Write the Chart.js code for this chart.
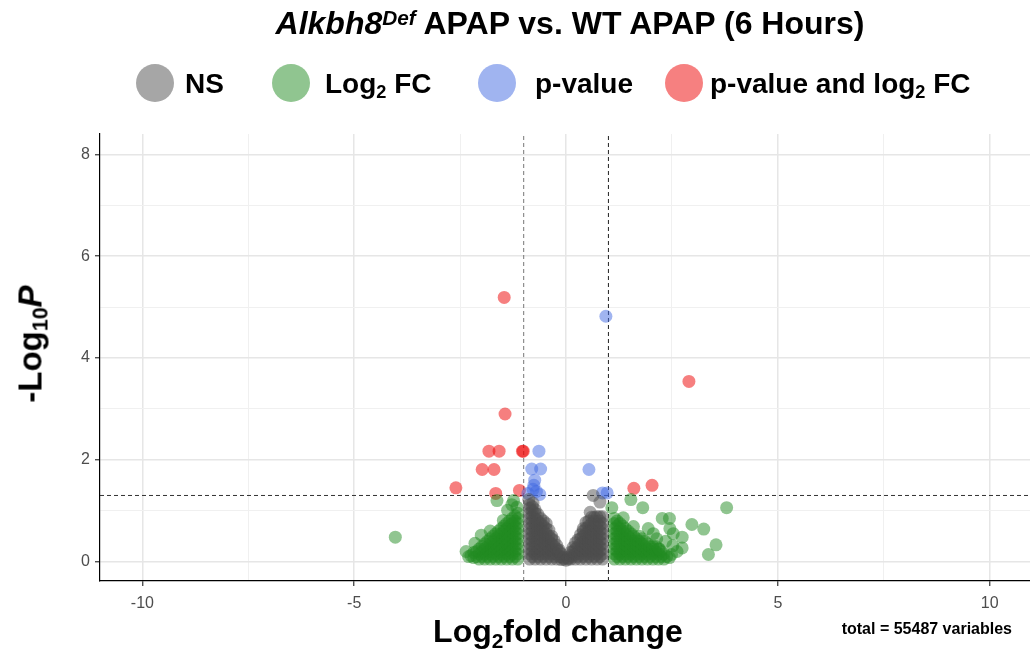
<!DOCTYPE html>
<html>
<head>
<meta charset="utf-8">
<title>Volcano plot</title>
<script src="https://cdn.jsdelivr.net/npm/chart.js@4.4.1/dist/chart.umd.min.js"></script>
<style>
    body { margin: 0; background: #fff; font-family: "Liberation Sans", Arial, sans-serif; }
    #wrap { position: relative; width: 1030px; height: 655px; overflow: hidden; }
    #myChart { position: absolute; left: 0; top: 0; }
    .txt { position: absolute; white-space: nowrap; font-weight: bold; color: #000; line-height: 1; }
    .dot { position: absolute; width: 38px; height: 38px; border-radius: 50%; }
    .sub { font-size: 0.65em; position: relative; top: 0.3em; }
    .sup { font-size: 0.65em; position: relative; top: -0.45em; }
    #title { left: 570px; top: 7px; font-size: 32px; transform: translateX(-50%); }
    .leg { top: 70px; font-size: 28px; }
    #xTitle { left: 558px; top: 615px; font-size: 32px; transform: translateX(-50%); }
    #yTitle { left: 30px; top: 344px; font-size: 33px; transform: translate(-50%, -50%) rotate(-90deg); }
    #caption { right: 18px; top: 621px; font-size: 16px; }
</style>
</head>
<body>
<div id="wrap">
    <canvas id="myChart" width="1030" height="655"></canvas>
    <div class="txt" id="title"><i>Alkbh8<span class="sup">Def</span></i> APAP vs. WT APAP (6 Hours)</div>

    <div class="dot" style="left:136px; top:64px; background:#a6a6a6;"></div>
    <div class="txt leg" style="left:185px;">NS</div>
    <div class="dot" style="left:272px; top:64px; background:#90c590;"></div>
    <div class="txt leg" style="left:325px;">Log<span class="sub">2</span> FC</div>
    <div class="dot" style="left:478px; top:64px; background:#a0b4f0;"></div>
    <div class="txt leg" style="left:535px;">p-value</div>
    <div class="dot" style="left:665px; top:64px; background:#f68080;"></div>
    <div class="txt leg" style="left:710px;">p-value and log<span class="sub">2</span> FC</div>

    <div class="txt" id="xTitle">Log<span class="sub">2</span>fold change</div>
    <div class="txt" id="yTitle">-Log<span class="sub">10</span><i>P</i></div>
    <div class="txt" id="caption">total = 55487 variables</div>
</div>
<script>
const xTicks = [-10, -7.5, -5, -2.5, 0, 2.5, 5, 7.5, 10];
const xLabels = [-10, -5, 0, 5, 10];
const yTicks = [0, 1, 2, 3, 4, 5, 6, 7, 8];
const yLabels = [0, 2, 4, 6, 8];
const xRange = [-11, 10.95];
const yRange = [-0.38, 8.4];
const fcCutoffs = [-1, 1];
const pCutoff = 1.3;

// dense grey cluster, read as columns: [log2FC, [-log10P ...]]
const nsColumns = [
    [-0.86, [0.05, 0.15, 0.25, 0.35, 0.45, 0.55, 0.65, 0.75, 0.85, 0.95, 1.05, 1.12]],
    [-0.795, [0.1, 0.2, 0.3, 0.4, 0.5, 0.6, 0.7, 0.8, 0.9, 1.0, 1.08]],
    [-0.73, [0.05, 0.15, 0.25, 0.35, 0.45, 0.55, 0.65, 0.75, 0.85, 0.95, 1.02]],
    [-0.665, [0.1, 0.2, 0.3, 0.4, 0.5, 0.6, 0.7, 0.8, 0.93]],
    [-0.6, [0.05, 0.15, 0.25, 0.35, 0.45, 0.55, 0.65, 0.75, 0.85]],
    [-0.535, [0.1, 0.2, 0.3, 0.4, 0.5, 0.6, 0.7, 0.8]],
    [-0.47, [0.05, 0.15, 0.25, 0.35, 0.45, 0.55, 0.65, 0.75]],
    [-0.405, [0.1, 0.2, 0.3, 0.4, 0.5, 0.62]],
    [-0.34, [0.05, 0.15, 0.25, 0.35, 0.45, 0.5]],
    [-0.28, [0.1, 0.2, 0.3, 0.41]],
    [-0.22, [0.05, 0.15, 0.25, 0.32]],
    [-0.165, [0.1, 0.2, 0.23]],
    [-0.11, [0.04, 0.1, 0.15]],
    [-0.055, [0.05, 0.08]],
    [0, [0.03]],
    [0.055, [0.05, 0.08]],
    [0.11, [0.05, 0.12, 0.19]],
    [0.165, [0.1, 0.2, 0.28]],
    [0.22, [0.05, 0.15, 0.25, 0.37]],
    [0.28, [0.1, 0.2, 0.3, 0.43]],
    [0.34, [0.05, 0.15, 0.25, 0.35, 0.45, 0.53]],
    [0.405, [0.1, 0.2, 0.3, 0.4, 0.5, 0.6, 0.65]],
    [0.47, [0.05, 0.15, 0.25, 0.35, 0.45, 0.55, 0.65, 0.77]],
    [0.535, [0.1, 0.2, 0.3, 0.4, 0.5, 0.6, 0.7, 0.8]],
    [0.6, [0.05, 0.15, 0.25, 0.35, 0.45, 0.55, 0.65, 0.75, 0.87]],
    [0.665, [0.1, 0.2, 0.3, 0.4, 0.5, 0.6, 0.7, 0.8, 0.87]],
    [0.73, [0.05, 0.15, 0.25, 0.35, 0.45, 0.55, 0.65, 0.75, 0.88]],
    [0.795, [0.1, 0.2, 0.3, 0.4, 0.5, 0.6, 0.7, 0.8, 0.88]],
    [0.86, [0.05, 0.15, 0.25, 0.35, 0.45, 0.55, 0.65, 0.75, 0.88]]
];
const nsPoints = [[-0.88, 1.22], [-0.78, 1.15], [0.64, 1.3], [0.8, 1.17], [0.57, 0.97]];

// dense green clusters either side of the fold-change cutoffs
const fcColumns = [
    [-1.14, [0.05, 0.15, 0.25, 0.35, 0.45, 0.55, 0.65, 0.75, 0.85, 0.95]],
    [-1.205, [0.1, 0.2, 0.3, 0.4, 0.5, 0.6, 0.7, 0.8, 0.9]],
    [-1.27, [0.05, 0.15, 0.25, 0.35, 0.45, 0.55, 0.65, 0.75, 0.85]],
    [-1.335, [0.1, 0.2, 0.3, 0.4, 0.5, 0.6, 0.7, 0.8]],
    [-1.4, [0.05, 0.15, 0.25, 0.35, 0.45, 0.55, 0.65, 0.75]],
    [-1.465, [0.1, 0.2, 0.3, 0.4, 0.5, 0.6, 0.7]],
    [-1.53, [0.05, 0.15, 0.25, 0.35, 0.45, 0.55, 0.65]],
    [-1.595, [0.1, 0.2, 0.3, 0.4, 0.5, 0.6]],
    [-1.66, [0.05, 0.15, 0.25, 0.35, 0.45, 0.55]],
    [-1.725, [0.1, 0.2, 0.3, 0.4, 0.5]],
    [-1.79, [0.05, 0.15, 0.25, 0.35, 0.45]],
    [-1.855, [0.1, 0.2, 0.3, 0.4]],
    [-1.92, [0.05, 0.15, 0.25, 0.35]],
    [-1.985, [0.1, 0.2, 0.3]],
    [-2.05, [0.05, 0.15, 0.25]],
    [-2.115, [0.1, 0.2]],
    [-2.18, [0.08, 0.18]],
    [-2.245, [0.12]],
    [-2.3, [0.1]],
    [1.14, [0.05, 0.15, 0.25, 0.35, 0.45, 0.55, 0.65, 0.75, 0.85]],
    [1.205, [0.1, 0.2, 0.3, 0.4, 0.5, 0.6, 0.7, 0.8]],
    [1.27, [0.05, 0.15, 0.25, 0.35, 0.45, 0.55, 0.65, 0.75]],
    [1.335, [0.1, 0.2, 0.3, 0.4, 0.5, 0.6, 0.7]],
    [1.4, [0.05, 0.15, 0.25, 0.35, 0.45, 0.55, 0.65]],
    [1.465, [0.1, 0.2, 0.3, 0.4, 0.5, 0.6]],
    [1.53, [0.05, 0.15, 0.25, 0.35, 0.45, 0.55]],
    [1.595, [0.1, 0.2, 0.3, 0.4, 0.5]],
    [1.66, [0.05, 0.15, 0.25, 0.35, 0.45]],
    [1.725, [0.1, 0.2, 0.3, 0.4, 0.5]],
    [1.79, [0.05, 0.15, 0.25, 0.35, 0.45]],
    [1.855, [0.1, 0.2, 0.3, 0.4]],
    [1.92, [0.05, 0.15, 0.25, 0.35]],
    [1.985, [0.1, 0.2, 0.3]],
    [2.05, [0.05, 0.15, 0.25, 0.3]],
    [2.115, [0.1, 0.2, 0.3]],
    [2.18, [0.05, 0.15, 0.25]],
    [2.245, [0.1, 0.2]],
    [2.31, [0.05, 0.15]],
    [2.375, [0.1]],
    [2.44, [0.08]]
];
const fcPoints = [
    [-4.03, 0.48], [-2.15, 0.36], [-2.0, 0.52], [-1.79, 0.6], [-1.63, 1.2], [-1.38, 1.01], [-1.24, 1.2],
    [-1.48, 0.81], [-1.16, 1.07], [-1.28, 1.12], [-2.36, 0.2],
    [3.79, 1.06], [2.97, 0.73], [3.25, 0.64], [3.54, 0.33], [3.36, 0.14], [2.74, 0.48], [2.74, 0.27],
    [2.52, 0.31], [2.49, 0.14], [2.27, 0.85], [2.44, 0.85], [2.45, 0.65], [2.53, 0.55], [1.81, 1.06],
    [1.53, 1.22], [1.08, 1.06], [1.35, 0.86], [1.59, 0.69], [1.94, 0.65], [2.06, 0.55], [2.14, 0.45],
    [2.35, 0.4], [2.62, 0.2], [2.2, 0.25]
];

// p-value only (blue)
const pPoints = [
    [0.94, 4.82], [-0.64, 2.17], [-0.81, 1.82], [-0.6, 1.82], [0.54, 1.81], [-0.74, 1.6], [-0.76, 1.5],
    [-0.78, 1.42], [-0.9, 1.34], [-0.62, 1.32], [-0.7, 1.38], [0.86, 1.35], [0.97, 1.35]
];

// p-value and log2 FC (red)
const bothPoints = [
    [-1.46, 5.19], [-1.44, 2.9], [2.9, 3.54], [-1.82, 2.17], [-1.58, 2.17], [-1.03, 2.17], [-1.01, 2.17],
    [-1.98, 1.81], [-1.7, 1.81], [-2.6, 1.45], [-1.66, 1.34], [-1.1, 1.4], [1.6, 1.44], [2.03, 1.5]
];

function fromColumns(columns) {
    return columns.flatMap(col => col[1].map(y => [col[0], y]));
}

function toXY(points) {
    return points.map(p => ({ x: p[0], y: p[1] }));
}

function pointSet(points, color) {
    return {
        data: toXY(points),
        backgroundColor: color,
        borderWidth: 0,
        pointRadius: 6.5,
        pointHoverRadius: 6.5
    };
}

function cutLine(data, color) {
    return {
        data: data,
        showLine: true,
        borderColor: color,
        borderWidth: 1,
        borderDash: [4, 3],
        pointRadius: 0,
        fill: false
    };
}

const isMajor = (list, v) => list.some(m => Math.abs(m - v) < 1e-6);

const ctx = document.getElementById('myChart').getContext('2d');
window.myChart = new Chart(ctx, {
    type: 'scatter',
    data: {
        datasets: [
            pointSet(fromColumns(nsColumns).concat(nsPoints), 'rgba(77, 77, 77, 0.5)'),
            pointSet(fromColumns(fcColumns).concat(fcPoints), 'rgba(34, 139, 34, 0.5)'),
            pointSet(pPoints, 'rgba(65, 105, 225, 0.5)'),
            pointSet(bothPoints, 'rgba(238, 0, 0, 0.5)'),
            cutLine([{ x: fcCutoffs[0], y: yRange[0] }, { x: fcCutoffs[0], y: yRange[1] }], '#777'),
            cutLine([{ x: fcCutoffs[1], y: yRange[0] }, { x: fcCutoffs[1], y: yRange[1] }], '#222'),
            cutLine([{ x: xRange[0], y: pCutoff }, { x: xRange[1], y: pCutoff }], '#333')
        ]
    },
    options: {
        responsive: false,
        animation: false,
        devicePixelRatio: 1,
        layout: { autoPadding: false, padding: { top: 134, right: 0, bottom: 34, left: 0 } },
        plugins: {
            legend: { display: false },
            tooltip: { enabled: false }
        },
        scales: {
            x: {
                type: 'linear',
                min: xRange[0],
                max: xRange[1],
                afterBuildTicks: scale => { scale.ticks = xTicks.map(v => ({ value: v })); },
                afterFit: scale => {
                    scale.height = 40;
                    scale.paddingLeft = 0;
                    scale.paddingRight = 0;
                },
                ticks: {
                    autoSkip: false,
                    maxRotation: 0,
                    padding: 8,
                    color: '#4d4d4d',
                    font: { family: 'Liberation Sans', size: 16 },
                    callback: v => isMajor(xLabels, v) ? String(v) : ''
                },
                grid: {
                    color: c => isMajor(xLabels, c.tick.value) ? '#e6e6e6' : '#f0f0f0',
                    lineWidth: c => isMajor(xLabels, c.tick.value) ? 1.5 : 1,
                    tickColor: c => isMajor(xLabels, c.tick.value) ? '#333' : 'rgba(0,0,0,0)',
                    tickLength: 5,
                    tickWidth: 1.2
                },
                border: { color: '#000', width: 1.2 }
            },
            y: {
                type: 'linear',
                min: yRange[0],
                max: yRange[1],
                afterBuildTicks: scale => { scale.ticks = yTicks.map(v => ({ value: v })); },
                afterFit: scale => {
                    scale.width = 100;
                    scale.paddingTop = 0;
                    scale.paddingBottom = 0;
                },
                ticks: {
                    autoSkip: false,
                    padding: 5,
                    color: '#4d4d4d',
                    font: { family: 'Liberation Sans', size: 16 },
                    callback: v => isMajor(yLabels, v) ? String(v) : ''
                },
                grid: {
                    color: c => isMajor(yLabels, c.tick.value) ? '#e6e6e6' : '#f0f0f0',
                    lineWidth: c => isMajor(yLabels, c.tick.value) ? 1.5 : 1,
                    tickColor: c => isMajor(yLabels, c.tick.value) ? '#333' : 'rgba(0,0,0,0)',
                    tickLength: 5,
                    tickWidth: 1.2
                },
                border: { color: '#000', width: 1.2 }
            }
        }
    }
});
</script>
</body>
</html>
